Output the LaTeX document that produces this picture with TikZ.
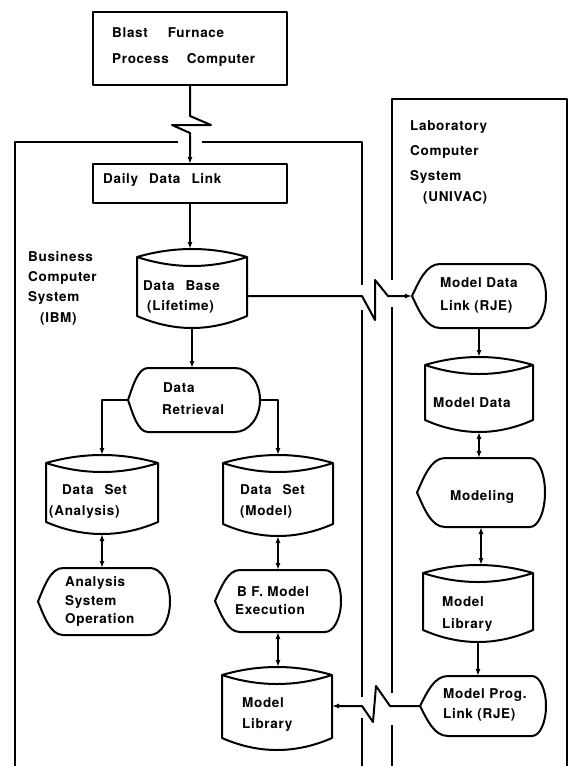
\documentclass[tikz,border=0pt]{standalone}
\usepackage{fontspec}
\setmainfont{TeX Gyre Heros}[LetterSpace=5]
\usetikzlibrary{arrows.meta,calc}
\newcommand\wgap{\hspace{11pt}}
\def\cylU{8}\def\cylM{9}\def\cylD{12}
\newcommand\cylshape[5]{% name, cx, w, top corner y, bottom corner y
 \pgfmathsetmacro\cL{#2-#3/2}\pgfmathsetmacro\cR{#2+#3/2}%
 \pgfmathsetmacro\cA{\cL+#3/3}\pgfmathsetmacro\cB{\cL+2*#3/3}%
 \pgfmathsetmacro\cUp{#4-4*\cylU/3}\pgfmathsetmacro\cMd{#4+4*\cylM/3}\pgfmathsetmacro\cDn{#5+4*\cylD/3}%
 \draw[shp] (\cL,#4) .. controls (\cA,\cUp) and (\cB,\cUp) .. (\cR,#4) -- (\cR,#5) .. controls (\cB,\cDn) and (\cA,\cDn) .. (\cL,#5) -- cycle;
 \draw[shp] (\cL,#4) .. controls (\cA,\cMd) and (\cB,\cMd) .. (\cR,#4);
 \node[anc, minimum width=#3, minimum height={#5-#4+\cylU+\cylD}] (#1) at (#2,{(#4-\cylU+#5+\cylD)/2}) {};
}
\newcommand\dispshape[7]{% name, x tip, x left-top, x arc start, x right, top y, bottom y
 \pgfmathsetmacro\dMid{(#6+#7)/2}\pgfmathsetmacro\dDx{#3-#2}%
 \pgfmathsetmacro\dDh{\dMid-#6}\pgfmathsetmacro\dRw{#5-#4}%
 \pgfmathsetmacro\dPa{#4+0.552*\dRw}\pgfmathsetmacro\dPb{\dMid-0.552*\dDh}\pgfmathsetmacro\dPc{\dMid+0.552*\dDh}%
 \pgfmathsetmacro\dQa{#3-0.5*\dDx}\pgfmathsetmacro\dQb{#2+0.25*\dDx}\pgfmathsetmacro\dQc{\dMid+0.45*\dDh}\pgfmathsetmacro\dQd{\dMid-0.45*\dDh}%
 \draw[shp] (#3,#6) -- (#4,#6) .. controls (\dPa,#6) and (#5,\dPb) .. (#5,\dMid) .. controls (#5,\dPc) and (\dPa,#7) .. (#4,#7) -- (#3,#7) .. controls (\dQa,#7) and (\dQb,\dQc) .. (#2,\dMid) .. controls (\dQb,\dQd) and (\dQa,#6) .. cycle;
 \node[anc, minimum width={#5-#2}, minimum height={#7-#6}] (#1) at ({(#2+#5)/2},\dMid) {};
}
\begin{document}
\begin{tikzpicture}[x=1pt,y=-1pt,
  shp/.style={line width=2pt, line join=round},
  con/.style={line width=2pt, line join=round},
  arr/.style={con,-{Latex[length=7pt,width=5pt]}},
  darr/.style={con,{Latex[length=7pt,width=5pt]}-{Latex[length=7pt,width=5pt]}},
  txt/.style={font=\fontsize{13.5}{16}\selectfont\bfseries, inner sep=0pt, anchor=west},
  anc/.style={inner sep=0pt, outer sep=0pt, draw=none}]
\useasboundingbox (0,0) rectangle (572,766);

% system frames (open at the bottom)
\draw[shp] (178,142) -- (15,142) -- (15,766);
\draw[shp] (202,142) -- (362,142) -- (362,285);
\draw[shp] (362,310) -- (362,697);
\draw[shp] (362,718) -- (362,766);
\draw[shp] (392,766) -- (392,725);
\draw[shp] (392,693) -- (392,307);
\draw[shp] (392,280) -- (392,99) -- (567,99) -- (567,766);

% rectangles
\node[anc, draw, shp, minimum width=194, minimum height=73, anchor=north west] (bpc) at (93,12) {};
\node[anc, draw, shp, minimum width=194, minimum height=39, anchor=north west] (ddl) at (93,164) {};

% cylinders
\cylshape{db}{192}{110}{257}{316}
\cylshape{dsa}{102}{112}{463}{522}
\cylshape{dsm}{278}{110}{463}{524}
\cylshape{mll}{277}{110}{675}{738}
\cylshape{md}{479}{108}{365}{420}
\cylshape{mlr}{478}{110}{573}{630}

% display shapes
\dispshape{dr}{128}{148}{235}{260}{368}{432}
\dispshape{aso}{38}{63}{150}{170}{568}{635}
\dispshape{bfe}{215}{240}{325}{341}{570}{632}
\dispshape{mdl}{412}{440}{528}{546}{264}{328}
\dispshape{mod}{417}{445}{530}{545}{458}{527}
\dispshape{mpl}{420}{448}{532}{546}{676}{736}

% texts
\node[txt] (t1) at (112,33) {Blast\hspace{20pt}Furnace};
\node[txt] (t2) at (112,60) {Process\hspace{18pt}Computer};
\node[txt] (t3) at (103,180) {Daily\wgap Data\wgap Link};
\node[txt] (t4) at (28,257) {Business};
\node[txt] (t5) at (28,278) {Computer};
\node[txt] (t6) at (28,298) {System};
\node[txt] (t7) at (40,319) {(IBM)};
\node[txt] (t8) at (143,286) {Data\wgap Base};
\node[txt] (t9) at (147,307) {(Lifetime)};
\node[txt] (t10) at (163,388) {Data};
\node[txt] (t11) at (162,410) {Retrieval};
\node[txt] (t12) at (62,490) {Data\wgap Set};
\node[txt] (t13) at (49,512) {(Analysis)};
\node[txt] (t14) at (65,583) {Analysis};
\node[txt] (t15) at (65,602) {System};
\node[txt] (t16) at (65,620) {Operation};
\node[txt] (t17) at (240,490) {Data\wgap Set};
\node[txt] (t18) at (240,512) {(Model)};
\node[txt] (t19) at (237,592) {B F. Model};
\node[txt] (t20) at (235,610) {Execution};
\node[txt] (t21) at (242,703) {Model};
\node[txt] (t22) at (242,725) {Library};
\node[txt] (t23) at (410,127) {Laboratory};
\node[txt] (t24) at (410,152) {Computer};
\node[txt] (t25) at (410,177) {System};
\node[txt] (t26) at (423,198) {(UNIVAC)};
\node[txt] (t27) at (440,283) {Model Data};
\node[txt] (t28) at (440,307) {Link (RJE)};
\node[txt] (t29) at (433,403) {Model Data};
\node[txt] (t30) at (450,497) {Modeling};
\node[txt] (t31) at (442,602) {Model};
\node[txt] (t32) at (442,625) {Library};
\node[txt] (t33) at (443,695) {Model Prog.};
\node[txt] (t34) at (443,715) {Link (RJE)};

% connectors
\draw[arr] (bpc.south) -- ++(0,31) -- ++(21,9) -- ++(-39,0) -- ++(18,8) -- (ddl.north);
\draw[arr] (ddl.south) -- (ddl.south |- db.north);
\draw[arr] (db.south) -- (db.south |- dr.north);
\draw[arr] (dr.west) -| (dsa.north);
\draw[arr] (dr.east) -| (dsm.north);
\draw[darr] (dsa.south) -- (dsa.south |- aso.north);
\draw[darr] (dsm.south) -- (dsm.south |- bfe.north);
\draw[darr] (bfe.south) -- (bfe.south |- mll.north);
\draw[arr] (db.east |- mdl.west) -- ++(115,0) -- ++(13,24) -- ++(0,-40) -- ++(13,16) |- (mdl.west);
\draw[arr] (mdl.south) -- (mdl.south |- md.north);
\draw[darr] (md.south) -- (md.south |- mod.north);
\draw[darr] (mod.south) -- (mod.south |- mlr.north);
\draw[arr] (mlr.south) -- (mlr.south |- mpl.north);
\draw[arr] (mpl.west) -- ++(-30,0) -- ++(-14,-20) -- ++(-3,36) -- ++(-11,-16) -- (mll.east |- mpl.west);
\end{tikzpicture}
\end{document}
